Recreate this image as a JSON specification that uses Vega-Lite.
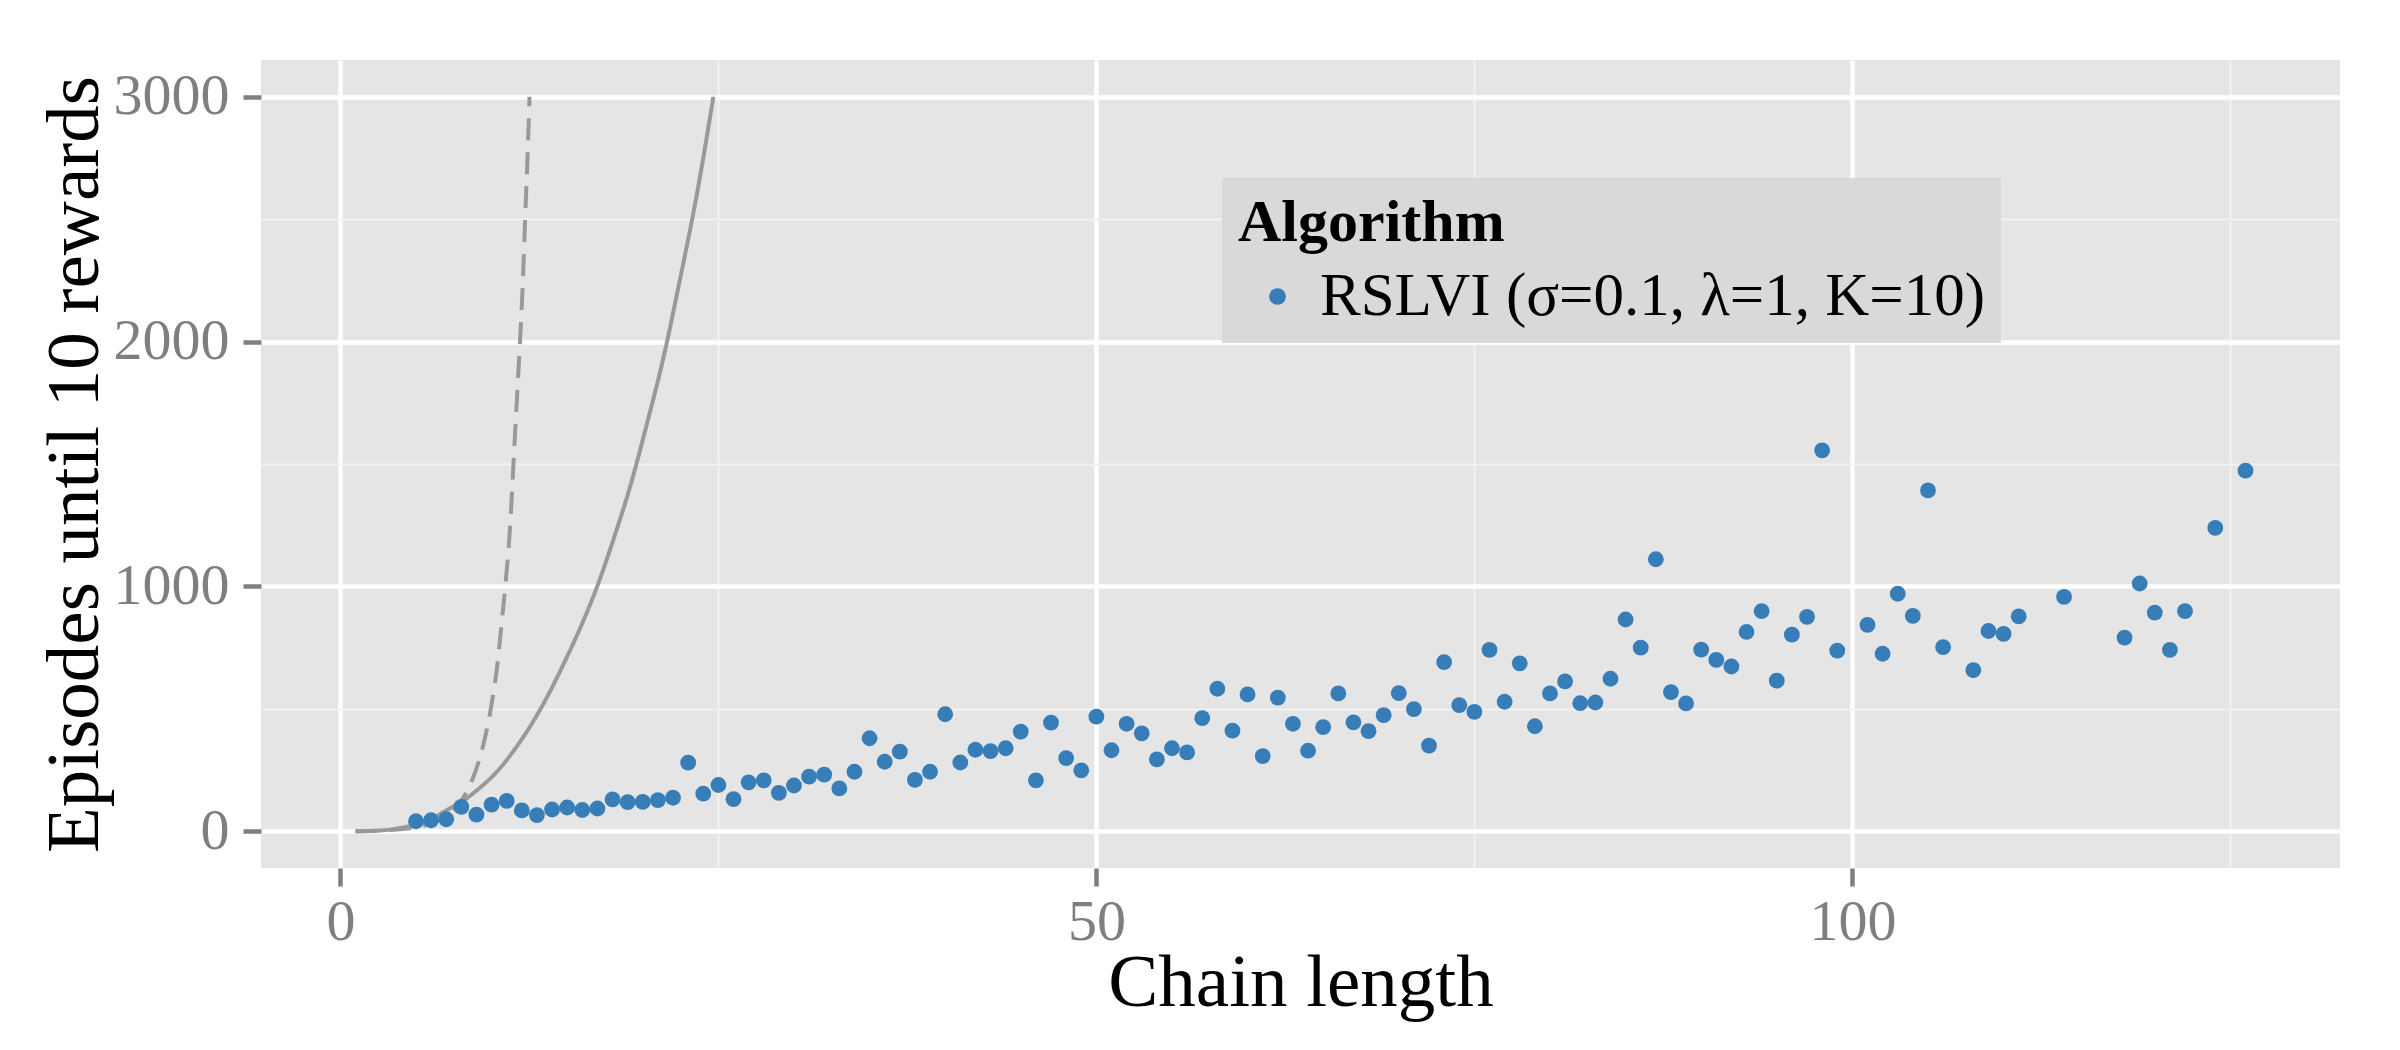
{
  "$schema": "https://vega.github.io/schema/vega-lite/v6.json",
  "width": 2079,
  "height": 808,
  "autosize": {"type": "none"},
  "padding": {"left": 261, "top": 60, "right": 61, "bottom": 182},
  "background": "white",
  "config": {
    "view": {"fill": "#e5e5e5", "stroke": null},
    "font": "Liberation Serif",
    "axis": {
      "domain": false,
      "tickColor": "#7f7f7f",
      "tickWidth": 4.3,
      "tickSize": 18,
      "labelColor": "#7f7f7f",
      "labelFont": "Liberation Serif",
      "labelFontSize": 58,
      "titleFont": "Liberation Serif",
      "titleFontSize": 75,
      "titleFontWeight": "normal",
      "titleColor": "black",
      "gridColor": "white",
      "gridWidth": 4.3
    }
  },
  "datasets": {
    "points": [
      {"n": 5, "v": 41}, {"n": 6, "v": 45}, {"n": 7, "v": 49}, {"n": 8, "v": 100},
      {"n": 9, "v": 68}, {"n": 10, "v": 109}, {"n": 11, "v": 124}, {"n": 12, "v": 85},
      {"n": 13, "v": 66}, {"n": 14, "v": 89}, {"n": 15, "v": 97}, {"n": 16, "v": 87},
      {"n": 17, "v": 93}, {"n": 18, "v": 130}, {"n": 19, "v": 119}, {"n": 20, "v": 120},
      {"n": 21, "v": 127}, {"n": 22, "v": 137}, {"n": 23, "v": 280}, {"n": 24, "v": 154},
      {"n": 25, "v": 189}, {"n": 26, "v": 131}, {"n": 27, "v": 200}, {"n": 28, "v": 208},
      {"n": 29, "v": 157}, {"n": 30, "v": 187}, {"n": 31, "v": 223}, {"n": 32, "v": 231},
      {"n": 33, "v": 175}, {"n": 34, "v": 243}, {"n": 35, "v": 380}, {"n": 36, "v": 284},
      {"n": 37, "v": 325}, {"n": 38, "v": 210}, {"n": 39, "v": 243}, {"n": 40, "v": 478},
      {"n": 41, "v": 281}, {"n": 42, "v": 333}, {"n": 43, "v": 327}, {"n": 44, "v": 339},
      {"n": 45, "v": 407}, {"n": 46, "v": 208}, {"n": 47, "v": 444}, {"n": 48, "v": 299},
      {"n": 49, "v": 249}, {"n": 50, "v": 468}, {"n": 51, "v": 331}, {"n": 52, "v": 439},
      {"n": 53, "v": 400}, {"n": 54, "v": 294}, {"n": 55, "v": 339}, {"n": 56, "v": 322},
      {"n": 57, "v": 462}, {"n": 58, "v": 582}, {"n": 59, "v": 411}, {"n": 60, "v": 559},
      {"n": 61, "v": 307}, {"n": 62, "v": 546}, {"n": 63, "v": 439}, {"n": 64, "v": 329},
      {"n": 65, "v": 425}, {"n": 66, "v": 563}, {"n": 67, "v": 445}, {"n": 68, "v": 409},
      {"n": 69, "v": 474}, {"n": 70, "v": 564}, {"n": 71, "v": 499}, {"n": 72, "v": 350},
      {"n": 73, "v": 691}, {"n": 74, "v": 515}, {"n": 75, "v": 488}, {"n": 76, "v": 741},
      {"n": 77, "v": 529}, {"n": 78, "v": 686}, {"n": 79, "v": 429}, {"n": 80, "v": 563},
      {"n": 81, "v": 612}, {"n": 82, "v": 523}, {"n": 83, "v": 526}, {"n": 84, "v": 623},
      {"n": 85, "v": 865}, {"n": 86, "v": 750}, {"n": 87, "v": 1111}, {"n": 88, "v": 568},
      {"n": 89, "v": 522}, {"n": 90, "v": 742}, {"n": 91, "v": 700}, {"n": 92, "v": 673},
      {"n": 93, "v": 814}, {"n": 94, "v": 899}, {"n": 95, "v": 615}, {"n": 96, "v": 803},
      {"n": 97, "v": 876}, {"n": 98, "v": 1556}, {"n": 99, "v": 738}, {"n": 101, "v": 843},
      {"n": 102, "v": 725}, {"n": 103, "v": 970}, {"n": 104, "v": 880}, {"n": 105, "v": 1392},
      {"n": 106, "v": 752}, {"n": 108, "v": 658}, {"n": 109, "v": 818}, {"n": 110, "v": 806},
      {"n": 111, "v": 878}, {"n": 114, "v": 957}, {"n": 118, "v": 791}, {"n": 119, "v": 1012},
      {"n": 120, "v": 893}, {"n": 121, "v": 741}, {"n": 122, "v": 899}, {"n": 124, "v": 1239},
      {"n": 126, "v": 1473}
    ],
    "bounds": [
      {"series": "solid", "n": 1, "v": 0},
      {"series": "solid", "n": 2, "v": 1.5},
      {"series": "solid", "n": 3, "v": 5},
      {"series": "solid", "n": 4.4, "v": 19},
      {"series": "solid", "n": 5.95, "v": 48},
      {"series": "solid", "n": 7.05, "v": 87},
      {"series": "solid", "n": 8.15, "v": 126},
      {"series": "solid", "n": 9.25, "v": 179},
      {"series": "solid", "n": 10.35, "v": 243},
      {"series": "solid", "n": 11.45, "v": 328},
      {"series": "solid", "n": 12.56, "v": 429},
      {"series": "solid", "n": 13.66, "v": 547},
      {"series": "solid", "n": 14.76, "v": 683},
      {"series": "solid", "n": 15.86, "v": 830},
      {"series": "solid", "n": 16.96, "v": 996},
      {"series": "solid", "n": 18.06, "v": 1192},
      {"series": "solid", "n": 19.16, "v": 1407},
      {"series": "solid", "n": 20.26, "v": 1661},
      {"series": "solid", "n": 21.37, "v": 1935},
      {"series": "solid", "n": 22.47, "v": 2257},
      {"series": "solid", "n": 23.57, "v": 2599},
      {"series": "solid", "n": 24.67, "v": 3000},
      {"series": "dashed", "n": 1, "v": 0},
      {"series": "dashed", "n": 3, "v": 4},
      {"series": "dashed", "n": 5, "v": 16},
      {"series": "dashed", "n": 6, "v": 32},
      {"series": "dashed", "n": 7, "v": 65},
      {"series": "dashed", "n": 8, "v": 125},
      {"series": "dashed", "n": 8.81, "v": 224},
      {"series": "dashed", "n": 9.52, "v": 370},
      {"series": "dashed", "n": 10.02, "v": 527},
      {"series": "dashed", "n": 10.35, "v": 664},
      {"series": "dashed", "n": 10.68, "v": 859},
      {"series": "dashed", "n": 10.9, "v": 996},
      {"series": "dashed", "n": 11.23, "v": 1250},
      {"series": "dashed", "n": 11.45, "v": 1504},
      {"series": "dashed", "n": 11.67, "v": 1759},
      {"series": "dashed", "n": 11.89, "v": 2013},
      {"series": "dashed", "n": 12.07, "v": 2247},
      {"series": "dashed", "n": 12.22, "v": 2501},
      {"series": "dashed", "n": 12.38, "v": 2756},
      {"series": "dashed", "n": 12.51, "v": 3000}
    ]
  },
  "resolve": {
    "scale": {"x": "shared", "y": "shared"},
    "axis": {"x": "independent", "y": "independent"}
  },
  "layer": [
    {
      "data": {"name": "points"},
      "mark": {"type": "point", "opacity": 0},
      "encoding": {
        "x": {
          "field": "n", "type": "quantitative",
          "scale": {"domain": [-5.25, 132.25], "nice": false, "zero": false},
          "axis": {"orient": "top", "values": [25, 75, 125], "grid": true, "labels": false, "ticks": false, "title": null, "gridColor": "#f2f2f2", "gridWidth": 2.2}
        },
        "y": {
          "field": "v", "type": "quantitative",
          "scale": {"domain": [-150, 3150], "nice": false, "zero": false},
          "axis": {"orient": "right", "values": [500, 1500, 2500], "grid": true, "labels": false, "ticks": false, "title": null, "gridColor": "#f2f2f2", "gridWidth": 2.2}
        }
      }
    },
    {
      "data": {"name": "bounds"},
      "mark": {"type": "line", "color": "#999999", "strokeWidth": 4, "interpolate": "monotone"},
      "encoding": {
        "x": {
          "field": "n", "type": "quantitative",
          "scale": {"domain": [-5.25, 132.25], "nice": false, "zero": false},
          "axis": {"orient": "bottom", "values": [0, 50, 100], "format": "d", "grid": true, "title": "Chain length", "labelPadding": 7, "titlePadding": -5, "gridColor": "white", "gridWidth": 4.5, "tickWidth": 4.5, "tickColor": "#7f7f7f"}
        },
        "y": {
          "field": "v", "type": "quantitative",
          "scale": {"domain": [-150, 3150], "nice": false, "zero": false},
          "axis": {"orient": "left", "values": [0, 1000, 2000, 3000], "format": "d", "grid": true, "title": "Episodes until 10 rewards", "labelPadding": 14, "titlePadding": 0, "gridColor": "white", "gridWidth": 4.5, "tickWidth": 4.5, "tickColor": "#7f7f7f"}
        },
        "strokeDash": {
          "field": "series", "type": "nominal",
          "scale": {"domain": ["solid", "dashed"], "range": [[1, 0], [22, 12]]},
          "legend": null
        }
      }
    },
    {
      "data": {"name": "points"},
      "transform": [{"calculate": "'RSLVI (σ=0.1, λ=1, K=10)'", "as": "algorithm"}],
      "mark": {"type": "circle", "size": 250, "opacity": 1},
      "encoding": {
        "x": {"field": "n", "type": "quantitative", "axis": null},
        "y": {"field": "v", "type": "quantitative", "axis": null},
        "color": {
          "field": "algorithm", "type": "nominal",
          "scale": {"range": ["#377eb8"]},
          "legend": {
            "title": "Algorithm",
            "orient": "none",
            "legendX": 961,
            "legendY": 118,
            "fillColor": "#d9d9d9",
            "padding": 16,
            "titleFont": "Liberation Serif",
            "titleFontSize": 60,
            "titleFontWeight": "bold",
            "titleColor": "black",
            "titlePadding": 12,
            "titleLimit": 0,
            "labelFont": "Liberation Serif",
            "labelFontSize": 61,
            "labelColor": "black",
            "labelLimit": 0,
            "symbolType": "circle",
            "symbolSize": 280,
            "symbolOpacity": 1,
            "symbolOffset": 9,
            "labelOffset": 12
          }
        }
      }
    }
  ]
}
